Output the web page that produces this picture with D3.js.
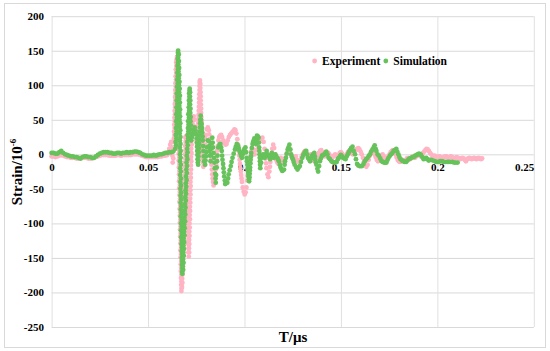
<!DOCTYPE html>
<html><head><meta charset="utf-8">
<script src="https://cdn.jsdelivr.net/npm/d3@7/dist/d3.min.js"></script>
<style>body{margin:0;background:#fff}svg{display:block}</style>
</head><body><svg id="c" width="550" height="351"></svg>
<script>
const xTicks=[0,0.05,0.1,0.15,0.2,0.25];
const yTicks=[-250,-200,-150,-100,-50,0,50,100,150,200];
const seriesNames=["Experiment","Simulation"];
const xTitle="T/μs";
const yTitle="Strain/10";
const yTitleSup="-6";

const experiment=[
[0,-3],[0.001,-3],[0.002,-4],[0.003,-3],[0.004,-2],[0.005,-1],[0.006,-2],[0.007,-3],[0.008,-4],[0.009,-4],[0.010,-5],[0.011,-5],[0.012,-5],[0.013,-6],[0.014,-6],[0.015,-6],[0.016,-5],[0.017,-5],[0.018,-5],[0.019,-6],[0.020,-6],[0.021,-6],[0.022,-5],[0.023,-4],[0.024,-3],[0.025,-2],[0.026,-1],[0.027,-1],[0.028,-1],[0.029,-1],[0.030,-2],[0.031,-2],[0.032,-2],[0.033,-2],[0.034,-1],[0.035,-1],[0.036,-2],[0.037,-1],[0.038,-1],[0.039,-1],[0.040,-1],[0.041,-1],[0.042,0],[0.043,0],[0.044,0],[0.045,0],[0.046,-1],[0.047,-2],[0.048,-3],[0.049,-4],[0.050,-4],[0.051,-4],[0.052,-4],[0.053,-4],[0.054,-4],[0.055,-4],[0.056,-3],[0.057,-3],[0.058,-2],[0.059,-2],[0.060,-1],[0.0605,3],[0.061,8],[0.0615,14],[0.062,18],[0.0623,10],[0.0626,-2],[0.0628,-12],[0.0631,-6],[0.0633,5],[0.0635,18],
[0.0634,23],[0.0637,28],[0.0635,33],[0.0638,38],[0.0636,43],[0.0639,48],[0.0637,53],[0.0640,58],[0.0638,63],[0.0641,68],[0.0639,73],[0.0642,78],[0.0640,83],[0.0643,88],[0.0641,93],[0.0644,98],[0.0642,103],[0.0645,108],[0.0643,113],[0.0646,118],[0.0644,123],[0.0647,128],[0.0646,133],[0.0648,137],[0.0650,141],
[0.0654,136],[0.0651,131],[0.0655,126],[0.0652,121],[0.0655,116],[0.0652,111],[0.0656,106],[0.0653,101],[0.0656,96],[0.0653,91],
[0.0657,86],[0.0654,81],[0.0657,76],[0.0655,71],[0.0658,66],[0.0655,61],[0.0658,56],[0.0656,51],[0.0659,46],[0.0656,41],
[0.0660,36],[0.0657,31],[0.0660,26],[0.0658,21],[0.0661,16],[0.0658,11],[0.0661,6],[0.0659,1],[0.0662,-4],[0.0659,-9],
[0.0663,-14],[0.0660,-19],[0.0663,-24],[0.0661,-29],[0.0664,-34],[0.0661,-39],[0.0665,-44],[0.0662,-49],[0.0665,-54],[0.0663,-59],
[0.0666,-64],[0.0663,-69],[0.0667,-74],[0.0664,-79],[0.0667,-84],[0.0665,-89],[0.0668,-94],[0.0665,-99],[0.0669,-104],[0.0666,-109],
[0.0669,-114],[0.0667,-119],[0.0670,-124],[0.0668,-129],[0.0671,-134],[0.0668,-139],[0.0671,-144],[0.0669,-149],[0.0672,-154],[0.0670,-159],
[0.0672,-164],[0.0670,-169],[0.0673,-174],[0.0671,-179],[0.0673,-184],[0.0672,-189],[0.0674,-194],[0.0673,-198],
[0.0676,-192],[0.0678,-186],[0.0677,-180],[0.0679,-174],[0.0678,-168],[0.0680,-162],[0.0679,-156],[0.0681,-150],[0.0680,-144],[0.0682,-138],
[0.0681,-132],[0.0683,-126],[0.0682,-120],[0.0684,-114],[0.0683,-108],[0.0685,-102],[0.0684,-96],[0.0686,-90],[0.0685,-84],[0.0687,-78],
[0.0686,-72],[0.0688,-66],[0.0687,-60],[0.0689,-54],[0.0688,-48],[0.0690,-42],[0.0689,-36],[0.0691,-30],[0.0690,-24],[0.0692,-18],
[0.0691,-12],[0.0693,-6],[0.0692,0],[0.0694,6],[0.0693,12],[0.0695,18],[0.0694,24],[0.0696,26],
[0.0698,20],[0.0696,14],[0.0699,8],[0.0697,2],[0.0700,-4],[0.0698,-10],[0.0701,-16],[0.0699,-22],[0.0702,-28],[0.0700,-34],
[0.0703,-40],[0.0701,-46],[0.0704,-52],[0.0702,-58],[0.0705,-64],[0.0703,-70],[0.0706,-76],[0.0704,-82],[0.0707,-88],[0.0705,-94],
[0.0708,-100],[0.0706,-106],[0.0709,-112],[0.0707,-118],[0.0710,-124],[0.0708,-130],[0.0710,-136],[0.0709,-142],[0.0711,-148],
[0.0713,-142],[0.0712,-136],[0.0714,-130],[0.0713,-124],[0.0715,-118],[0.0714,-112],[0.0716,-106],[0.0715,-100],[0.0717,-94],[0.0716,-88],
[0.0718,-82],[0.0717,-76],[0.0719,-70],[0.0718,-64],[0.0720,-58],[0.0719,-52],[0.0721,-46],[0.0720,-40],[0.0722,-34],[0.0721,-28],
[0.0723,-22],[0.0722,-16],[0.0724,-10],[0.0723,-4],[0.0725,2],[0.0724,8],[0.0726,14],[0.0725,20],[0.0727,26],[0.0728,32],[0.0729,38],[0.0731,44],[0.0733,50],[0.0737,55],
[0.0741,50],[0.0745,40],[0.0749,30],[0.0752,20],[0.0754,15],[0.0756,21],[0.0757,27],[0.0758,33],[0.0759,39],[0.0760,45],[0.0761,51],[0.0762,57],[0.0763,63],[0.0764,69],[0.0765,75],[0.0765,81],[0.0766,87],[0.0767,93],[0.0767,99],[0.0768,104],[0.0769,107],
[0.0771,102],[0.0771,96],[0.0772,90],[0.0773,84],[0.0773,78],[0.0774,72],[0.0775,66],[0.0775,60],[0.0776,54],[0.0777,48],[0.0777,42],[0.0778,36],[0.0779,30],[0.0779,24],[0.0780,18],[0.0781,12],[0.0781,6],[0.0782,0],[0.0783,-6],[0.0785,-12],[0.0787,-18],
[0.0790,-12],[0.0792,-4],[0.0794,5],[0.0796,14],[0.0798,22],[0.0800,28],[0.0805,36],[0.0810,39],[0.0815,35],[0.0817,29],[0.0819,22],[0.0821,15],[0.0823,8],[0.0825,0],[0.0827,-8],[0.0829,-15],[0.0831,-22],[0.0833,-29],[0.0835,-35],[0.0837,-40],[0.0840,-45],[0.0845,-42],[0.0847,-36],[0.0849,-30],[0.0851,-22],[0.0853,-15],[0.0855,-8],[0.0857,0],[0.0859,6],[0.0861,12],[0.0865,20],[0.0869,25],[0.0874,27],[0.0879,28],[0.0884,25],[0.0890,20],[0.0896,16],[0.0902,14],[0.0907,15],[0.0913,20],[0.0919,25],[0.0925,28],[0.0931,30],[0.0937,32],[0.0943,34],[0.0948,36],[0.0953,35],[0.0958,30],[0.0963,22],[0.0967,14],[0.0971,4],[0.0973,-2],[0.0975,-8],[0.0977,-14],[0.0979,-20],[0.0981,-25],[0.0983,-30],[0.0985,-35],[0.0987,-40],[0.0991,-48],[0.0996,-54],[0.1001,-58],[0.1006,-55],[0.1010,-48],[0.1014,-38],[0.1016,-31],[0.1018,-25],[0.1020,-18],[0.1022,-12],[0.1027,-4],[0.1033,4],[0.1040,10],[0.1046,6],[0.1053,0],[0.1060,6],[0.1066,13],[0.1072,18],[0.1079,21],[0.1086,23],[0.1093,24],[0.1099,18],[0.1104,8],[0.1107,0],[0.1109,-6],[0.1112,-13],[0.1114,-20],[0.1119,-29],[0.1124,-33],[0.1129,-25],[0.1132,-18],[0.1134,-11],[0.1139,0],[0.1144,8],[0.1149,14],[0.1154,9],[0.1159,0],[0.1164,-8],[0.1170,-12],[0.1176,-14],[0.1182,-10],[0.1188,-5],[0.1194,-8],[0.1200,-12],[0.1206,-10],[0.1212,-5],[0.1218,0],[0.1224,3],[0.1230,5],[0.1236,3],[0.1242,-2],[0.1248,-5],[0.1254,-8],[0.1260,-6],[0.1266,-3],[0.1272,-8],[0.1278,-10],[0.1284,-12],[0.1290,-8],[0.1296,-4],[0.1302,0],[0.1308,3],[0.1314,5],[0.1320,2],[0.1326,-2],[0.1332,-5],[0.1338,-3],[0.1344,0],[0.1350,-4],[0.1356,-7],[0.1362,-10],[0.1368,-8],[0.1374,-5],[0.1380,-2],[0.1386,2],[0.1392,5],[0.1398,6],[0.1404,3],[0.1410,0],[0.1416,-3],[0.1422,-2],[0.1428,0],[0.1434,2],[0.1440,0],[0.1446,-3],[0.1452,-5],[0.1458,-4],[0.1464,-2],[0.1470,0],[0.1476,-2],[0.1482,-3],[0.1488,-1],[0.1494,2],[0.1500,3],[0.1506,1],[0.1512,-2],[0.1518,-4],[0.1524,-3],[0.1530,0],[0.1536,3],[0.1542,5],[0.1548,4],[0.1554,2],[0.1560,0],[0.1566,2],[0.1572,4],[0.1578,6],[0.1584,8],[0.1590,9],[0.1596,7],[0.1602,4],[0.1608,0],[0.1614,-5],[0.1620,-10],[0.1626,-16],[0.1632,-18],[0.1638,-15],[0.1644,-8],[0.1650,-2],[0.1656,3],[0.1662,6],[0.1668,4],[0.1674,0],[0.1680,-4],[0.1686,-8],[0.1692,-10],[0.1698,-8],[0.1704,-5],[0.1710,-2],[0.1716,0],[0.1722,-3],[0.1728,-6],[0.1734,-8],[0.1740,-6],[0.1746,-3],[0.1752,0],[0.1758,3],[0.1764,5],[0.1770,6],[0.1776,4],[0.1782,0],[0.1788,-4],[0.1794,-8],[0.1800,-10],[0.1806,-11],[0.1812,-10],[0.1818,-8],[0.1824,-9],[0.1830,-10],[0.1836,-8],[0.1842,-6],[0.1848,-5],[0.1854,-6],[0.1860,-7],[0.1866,-5],[0.1872,-3],[0.1878,-4],[0.1884,-5],[0.1890,-3],[0.1896,-1],[0.1902,0],[0.1908,-2],[0.1914,-3],[0.1920,-1],[0.1926,2],[0.1932,4],[0.1938,6],[0.1944,8],[0.1950,7],[0.1956,5],[0.1962,2],[0.1968,0],[0.1974,-2],[0.1980,-3],[0.1986,-2],[0.1992,-3],[0.1998,-4],[0.2004,-4],[0.2010,-3],[0.2016,-4],[0.2022,-5],[0.2028,-5],[0.2034,-4],[0.2040,-3],[0.2046,-3],[0.2052,-4],[0.2058,-5],[0.2064,-4],[0.2070,-3],[0.2076,-4],[0.2082,-5],[0.2088,-6],[0.2094,-5],[0.2100,-4],[0.2106,-5],[0.2112,-6],[0.2118,-7],[0.2124,-6],[0.2130,-5],[0.2136,-6],[0.2142,-8],[0.2148,-10],[0.2154,-7],[0.2160,-6],[0.2166,-5],[0.2172,-6],[0.2178,-7],[0.2184,-6],[0.2190,-5],[0.2196,-6],[0.2202,-7],[0.2208,-6],[0.2214,-5],[0.2220,-6],[0.2226,-7],[0.2232,-6]
];

const simulation=[
[0,2],[0.001,2],[0.002,1],[0.003,1],[0.004,3],[0.005,5],[0.006,2],[0.007,0],[0.008,-1],[0.009,-2],[0.010,-3],[0.011,-3],[0.012,-4],[0.013,-4],[0.014,-5],[0.015,-6],[0.016,-4],[0.017,-3],[0.018,-3],[0.019,-4],[0.020,-4],[0.021,-5],[0.022,-5],[0.023,-3],[0.024,-1],[0.025,1],[0.026,2],[0.027,3],[0.028,3],[0.029,3],[0.030,2],[0.031,2],[0.032,1],[0.033,1],[0.034,2],[0.035,2],[0.036,1],[0.037,2],[0.038,2],[0.039,3],[0.040,2],[0.041,3],[0.042,3],[0.043,4],[0.044,4],[0.045,3],[0.046,2],[0.047,0],[0.048,-1],[0.049,-2],[0.050,-2],[0.051,-2],[0.052,-2],[0.053,-1],[0.054,-2],[0.055,-1],[0.056,0],[0.057,0],[0.058,1],[0.059,2],[0.060,2],[0.061,3],[0.062,3],[0.063,4],
[0.0641,8],[0.0645,13],[0.0643,18],[0.0647,23],[0.0644,28],[0.0648,33],[0.0645,38],[0.0649,43],[0.0646,48],[0.0650,53],[0.0647,58],[0.0651,63],[0.0648,68],[0.0652,73],[0.0649,78],[0.0652,83],[0.0649,88],[0.0653,93],[0.0650,98],[0.0654,103],[0.0651,108],[0.0654,113],[0.0652,118],[0.0655,123],[0.0653,128],[0.0655,133],[0.0654,138],[0.0656,143],[0.0655,147],[0.0656,150],
[0.0659,145],[0.0656,140],[0.0660,135],[0.0657,130],[0.0661,125],[0.0658,120],[0.0662,115],[0.0659,110],[0.0663,105],[0.0660,100],
[0.0664,95],[0.0661,90],[0.0665,85],[0.0662,80],[0.0665,75],[0.0662,70],[0.0666,65],[0.0663,60],[0.0666,55],[0.0663,50],
[0.0667,45],[0.0664,40],[0.0667,35],[0.0664,30],[0.0668,25],[0.0665,20],[0.0668,15],[0.0665,10],[0.0669,5],[0.0666,0],
[0.0669,-5],[0.0666,-10],[0.0670,-15],[0.0667,-20],[0.0670,-25],[0.0667,-30],[0.0671,-35],[0.0668,-40],[0.0671,-45],[0.0668,-50],
[0.0672,-55],[0.0669,-60],[0.0672,-65],[0.0669,-70],[0.0673,-75],[0.0670,-80],[0.0673,-85],[0.0670,-90],[0.0674,-95],[0.0671,-100],
[0.0674,-105],[0.0671,-110],[0.0675,-115],[0.0672,-120],[0.0675,-125],[0.0673,-130],[0.0676,-135],[0.0674,-140],[0.0677,-145],[0.0675,-150],
[0.0677,-155],[0.0676,-160],[0.0678,-165],[0.0677,-170],[0.0678,-173],
[0.0682,-167],[0.0680,-162],[0.0684,-157],[0.0681,-152],[0.0685,-147],[0.0683,-142],[0.0686,-137],[0.0684,-132],[0.0688,-127],[0.0685,-122],
[0.0689,-117],[0.0687,-112],[0.0690,-107],[0.0688,-102],[0.0692,-97],[0.0689,-92],[0.0693,-87],[0.0691,-82],[0.0694,-77],[0.0692,-72],
[0.0696,-67],[0.0693,-62],[0.0697,-57],[0.0695,-52],[0.0698,-47],[0.0696,-42],[0.0700,-37],[0.0697,-32],[0.0701,-27],[0.0699,-22],
[0.0702,-17],[0.0700,-12],[0.0704,-7],[0.0701,-2],[0.0705,3],[0.0703,8],[0.0706,13],[0.0704,18],[0.0708,23],[0.0705,28],
[0.0709,33],[0.0707,38],[0.0710,43],[0.0708,48],[0.0712,53],[0.0709,58],[0.0713,63],[0.0711,68],[0.0714,73],[0.0712,78],
[0.0715,83],[0.0713,88],[0.0715,92],[0.0716,95],
[0.0718,90],[0.0717,84],[0.0719,78],[0.0718,72],[0.0720,66],[0.0719,60],[0.0721,54],[0.0720,48],[0.0722,42],[0.0721,36],[0.0723,30],[0.0722,24],[0.0724,20],
[0.0728,25],[0.0733,29],[0.0738,35],[0.0742,39],[0.0746,34],[0.0751,29],[0.0752,23],[0.0753,17],[0.0754,11],[0.0755,5],[0.0756,-1],[0.0757,-7],[0.0758,-12],[0.0760,-15],[0.0761,-9],[0.0762,-3],[0.0763,3],[0.0764,9],[0.0765,15],[0.0766,21],[0.0767,27],[0.0768,33],[0.0769,39],[0.0770,45],[0.0771,50],[0.0773,56],
[0.0775,50],[0.0778,44],[0.0780,38],[0.0781,32],[0.0783,26],[0.0784,20],[0.0786,12],[0.0787,5],[0.0789,-3],[0.0791,-10],[0.0796,-15],[0.0798,-9],[0.0800,-3],[0.0802,3],[0.0805,10],[0.0810,20],[0.0815,19],[0.0817,12],[0.0819,5],[0.0821,-2],[0.0824,-10],[0.0826,-1],[0.0828,8],[0.0830,16],[0.0833,24],[0.0835,17],[0.0837,10],[0.0840,2],[0.0842,-5],[0.0844,-12],[0.0846,-20],[0.0848,-28],[0.0850,-35],[0.0851,-41],[0.0853,-30],[0.0856,-19],[0.0858,-10],[0.0860,-2],[0.0864,10],[0.0870,14],[0.0875,15],[0.0879,10],[0.0882,5],[0.0884,-2],[0.0886,-8],[0.0889,-14],[0.0891,-20],[0.0893,-26],[0.0895,-32],[0.0898,-38],[0.0900,-43],[0.0905,-42],[0.0911,-41],[0.0915,-35],[0.0918,-29],[0.0923,-23],[0.0929,-17],[0.0933,-11],[0.0938,-5],[0.0944,1],[0.0951,7],[0.0955,11],[0.0960,15],[0.0965,13],[0.0969,10],[0.0973,6],[0.0978,2],[0.0982,-2],[0.0987,-5],[0.0991,0],[0.0996,5],[0.1000,8],[0.1005,10],[0.1008,3],[0.1011,-5],[0.1013,-10],[0.1015,-15],[0.1017,-20],[0.1018,-24],[0.1020,-28],[0.1021,-32],[0.1023,-36],[0.1024,-39],[0.1026,-33],[0.1027,-28],[0.1028,-23],[0.1029,-19],[0.1031,-13],[0.1032,-8],[0.1034,-3],[0.1035,2],[0.1038,9],[0.1042,15],[0.1046,19],[0.1051,23],[0.1055,19],[0.1060,15],[0.1063,22],[0.1065,27],[0.1069,26],[0.1073,24],[0.1075,17],[0.1076,10],[0.1077,5],[0.1078,0],[0.1079,-5],[0.1080,-10],[0.1081,-15],[0.1082,-20],[0.1086,-12],[0.1089,-5],[0.1093,-3],[0.1096,0],[0.1100,-3],[0.1105,-5],[0.1110,0],[0.1115,5],[0.1120,0],[0.1124,-2],[0.1129,-4],[0.1133,-7],[0.1138,-2],[0.1142,2],[0.1147,-2],[0.1151,-5],[0.1156,-2],[0.1160,0],[0.1165,-3],[0.1169,-5],[0.1174,-7],[0.1178,-10],[0.1183,-15],[0.1187,-19],[0.1192,-22],[0.1196,-24],[0.1200,-23],[0.1205,-22],[0.1208,-15],[0.1210,-10],[0.1215,-5],[0.1219,1],[0.1224,7],[0.1228,10],[0.1233,14],[0.1238,7],[0.1242,0],[0.1246,-4],[0.1251,-7],[0.1255,-11],[0.1260,-15],[0.1268,-19],[0.1275,-22],[0.1281,-19],[0.1287,-17],[0.1293,-11],[0.1300,-5],[0.1305,-1],[0.1311,2],[0.1316,4],[0.1320,5],[0.1325,0],[0.1329,-5],[0.1335,-7],[0.1340,-10],[0.1345,-6],[0.1351,-2],[0.1356,0],[0.1362,2],[0.1365,-3],[0.1367,-8],[0.1370,-12],[0.1373,-15],[0.1378,-21],[0.1382,-25],[0.1387,-17],[0.1391,-10],[0.1396,-6],[0.1402,-2],[0.1408,-1],[0.1415,0],[0.1420,2],[0.1424,4],[0.1430,0],[0.1436,-5],[0.1443,-7],[0.1451,-10],[0.1457,-11],[0.1464,-12],[0.1471,-12],[0.1478,-11],[0.1484,-7],[0.1489,-5],[0.1495,-3],[0.1500,-1],[0.1506,-3],[0.1511,-5],[0.1518,-6],[0.1524,-7],[0.1530,-3],[0.1536,0],[0.1541,3],[0.1547,6],[0.1553,9],[0.1560,11],[0.1566,5],[0.1573,0],[0.1578,-7],[0.1584,-14],[0.1590,-16],[0.1596,-17],[0.1603,-17],[0.1609,-17],[0.1617,-14],[0.1624,-10],[0.1631,-7],[0.1638,-5],[0.1645,-2],[0.1651,0],[0.1657,4],[0.1664,7],[0.1670,10],[0.1675,13],[0.1680,8],[0.1684,5],[0.1690,0],[0.1696,-2],[0.1704,-6],[0.1711,-10],[0.1718,-11],[0.1724,-12],[0.1730,-12],[0.1736,-12],[0.1742,-8],[0.1747,-5],[0.1754,-2],[0.1760,0],[0.1767,2],[0.1773,5],[0.1780,6],[0.1787,8],[0.1792,4],[0.1798,0],[0.1803,-4],[0.1809,-7],[0.1817,-9],[0.1824,-10],[0.1831,-11],[0.1838,-11],[0.1845,-9],[0.1851,-7],[0.1858,-6],[0.1864,-5],[0.1871,-4],[0.1878,-4],[0.1885,-2],[0.1893,-1],[0.1899,0],[0.1905,1],[0.1910,0],[0.1915,-1],[0.1922,-4],[0.1929,-7],[0.1935,-6],[0.1942,-5],[0.1948,-7],[0.1955,-9],[0.1962,-8],[0.1969,-8],[0.1978,-9],[0.1987,-10],[0.1996,-11],[0.2005,-11],[0.2014,-10],[0.2024,-10],[0.2033,-11],[0.2042,-11],[0.2051,-11],[0.2060,-11],[0.2069,-11],[0.2078,-11],[0.2087,-12],[0.2096,-12],[0.2105,-12]
];

const colors=["#ffb3c3","#66c25a"];
const svg=d3.select("#c");
const m={l:51.6,r:533.8,t:16.2,b:327};
const x=d3.scaleLinear().domain([0,0.25]).range([m.l,m.r]);
const y=d3.scaleLinear().domain([-250,200]).range([m.b,m.t]);
const font="'Liberation Serif','Times New Roman',serif";

svg.append("rect").attr("x",4.5).attr("y",3.5).attr("width",541).attr("height",344)
  .attr("fill","#fff").attr("stroke","#d9d9d9").attr("stroke-width",1);

// grid
const gy=svg.append("g").attr("transform",`translate(${m.l},0)`)
  .call(d3.axisLeft(y).tickValues(yTicks).tickSize(-(m.r-m.l)).tickFormat(""));
gy.select(".domain").remove();
gy.selectAll("line").attr("stroke","#d9d9d9");
const gx=svg.append("g").attr("transform",`translate(0,${m.b})`)
  .call(d3.axisBottom(x).tickValues(xTicks).tickSize(-(m.b-m.t)).tickFormat(""));
gx.select(".domain").remove();
gx.selectAll("line").attr("stroke","#e0e0e0");

// y labels
const ya=svg.append("g").attr("transform",`translate(${m.l-7.6},0)`)
  .call(d3.axisLeft(y).tickValues(yTicks).tickSize(0).tickPadding(0).tickFormat(d=>String(d)));
ya.select(".domain").remove();
ya.selectAll("text").attr("font-family",font).attr("font-weight","bold").attr("font-size","11px").attr("fill","#000");

// x labels at zero line
const xa=svg.append("g").attr("transform",`translate(0,${y(0)})`)
  .call(d3.axisBottom(x).tickValues(xTicks).tickSize(0).tickPadding(9).tickFormat(d=>String(d)));
xa.select(".domain").remove();
xa.selectAll("text").attr("font-family",font).attr("font-weight","bold").attr("font-size","11px").attr("fill","#000")
  .attr("text-anchor",d=>d===0.25?"end":"middle");

// points
[experiment,simulation].forEach((data,i)=>{
  svg.append("g").selectAll("circle").data(data).join("circle")
    .attr("cx",d=>x(d[0])).attr("cy",d=>y(d[1])).attr("r",2.4)
    .attr("fill",colors[i]);
});

// titles
svg.append("text").attr("x",293).attr("y",342).attr("text-anchor","middle")
  .attr("font-family",font).attr("font-weight","bold").attr("font-size","15px").text(xTitle);
const yt=svg.append("text").attr("transform","translate(22,172) rotate(-90)").attr("text-anchor","middle")
  .attr("font-family",font).attr("font-weight","bold").attr("font-size","15px");
yt.append("tspan").text(yTitle);
yt.append("tspan").attr("dy",-6).attr("font-size","9px").text(yTitleSup);

// legend
const legX=[314.6,385.8];
seriesNames.forEach((n,i)=>{
  svg.append("circle").attr("cx",legX[i]).attr("cy",61).attr("r",2.4).attr("fill",colors[i]);
  svg.append("text").attr("x",legX[i]+7.5).attr("y",65).attr("font-family",font).attr("font-weight","bold")
    .attr("font-size","11.5px").text(n);
});
</script>
</body></html>
